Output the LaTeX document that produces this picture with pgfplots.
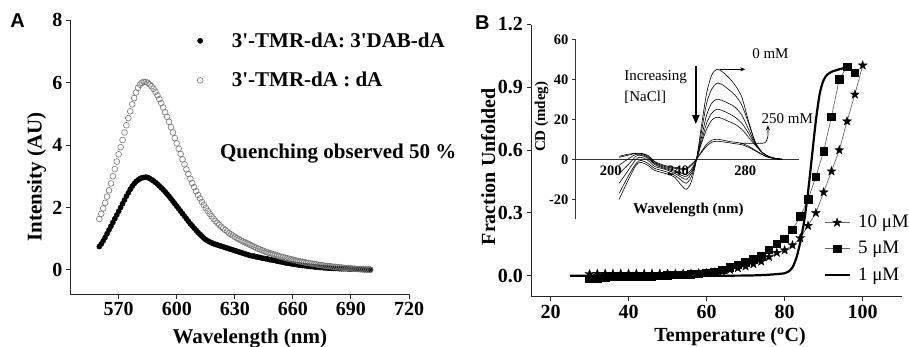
\documentclass[border=0pt]{standalone}
\usepackage{fontspec}
\setmainfont{Liberation Serif}
\newfontfamily\arialfont{Liberation Sans}
\usepackage{pgfplots}
\pgfplotsset{compat=1.18}
\usetikzlibrary{arrows.meta}
\pgfdeclareplotmark{fstar}{%
  \pgfpathmoveto{\pgfpointpolar{90}{\pgfplotmarksize}}%
  \pgfpathlineto{\pgfpointpolar{126}{0.4\pgfplotmarksize}}%
  \pgfpathlineto{\pgfpointpolar{162}{\pgfplotmarksize}}%
  \pgfpathlineto{\pgfpointpolar{198}{0.4\pgfplotmarksize}}%
  \pgfpathlineto{\pgfpointpolar{234}{\pgfplotmarksize}}%
  \pgfpathlineto{\pgfpointpolar{270}{0.4\pgfplotmarksize}}%
  \pgfpathlineto{\pgfpointpolar{306}{\pgfplotmarksize}}%
  \pgfpathlineto{\pgfpointpolar{342}{0.4\pgfplotmarksize}}%
  \pgfpathlineto{\pgfpointpolar{18}{\pgfplotmarksize}}%
  \pgfpathlineto{\pgfpointpolar{54}{0.4\pgfplotmarksize}}%
  \pgfpathclose\pgfusepathqfillstroke}
\begin{document}
\begin{tikzpicture}
\useasboundingbox (0,0) rectangle (909pt,346pt);
\node[font=\arialfont\bfseries\fontsize{20}{20}\selectfont] at (17.5pt,325pt) {A};
\node[font=\arialfont\bfseries\fontsize{20}{20}\selectfont] at (482.3pt,323.7pt) {B};
% ---------------- Panel A ----------------
\begin{axis}[at={(70.3pt,52pt)}, anchor=south west, scale only axis,
  width=338.7pt, height=274pt,
  xmin=545, xmax=720, ymin=-0.77, ymax=8,
  axis lines=left, axis line style={-, line width=0.9pt, black!85},
  xtick={570,600,630,660,690,720}, ytick={0,2,4,6,8},
  tick align=outside, major tick length=4.5pt,
  tick style={line width=0.9pt, black!85},
  tick label style={font=\fontsize{20}{24}\selectfont\bfseries},
  /pgf/number format/assume math mode=true,
  label style={font=\fontsize{21}{24}\selectfont\bfseries},
  xlabel={Wavelength (nm)}, ylabel={Intensity (AU)},
  xlabel style={at={(axis description cs:0.53,-0.1617)}, anchor=center},
  ylabel style={at={(axis description cs:-0.0992,0.428)}, anchor=center},
  clip=false,
  legend style={at={(axis description cs:0.374,0.955)}, anchor=north west,
    draw=none, fill=none, inner sep=0pt, row sep=23pt,
    cells={anchor=west}, nodes={inner sep=0pt, text depth=0.2em},
    font=\fontsize{21}{24}\selectfont\bfseries},
  legend image code/.code={\path[draw=none, fill=none] (0pt,-4pt) rectangle (34.7pt,4pt);
    \draw[#1] plot coordinates {(3pt,0pt)};},
]
\addplot[only marks, mark=*, mark size=2.6pt, black] coordinates {
(560,0.75)(561,0.83)(562,0.93)(563,1.04)(564,1.16)(565,1.28)(566,1.40)(567,1.52)(568,1.64)(569,1.76)
(570,1.88)(571,2.00)(572,2.12)(573,2.24)(574,2.36)(575,2.47)(576,2.58)(577,2.68)(578,2.76)(579,2.83)
(580,2.88)(581,2.92)(582,2.95)(583,2.96)(584,2.97)(585,2.96)(586,2.93)(587,2.89)(588,2.85)(589,2.80)
(590,2.75)(591,2.69)(592,2.63)(593,2.57)(594,2.50)(595,2.43)(596,2.36)(597,2.28)(598,2.20)(599,2.12)
(600,2.04)(601,1.96)(602,1.88)(603,1.80)(604,1.72)(605,1.64)(606,1.56)(607,1.48)(608,1.41)(609,1.34)
(610,1.27)(611,1.20)(612,1.14)(613,1.08)(614,1.02)(615,0.97)(616,0.93)(617,0.90)(618,0.87)(619,0.84)
(620,0.82)(621,0.80)(622,0.78)(623,0.76)(624,0.74)(625,0.72)(626,0.70)(627,0.68)(628,0.66)(629,0.64)
(630,0.62)(631,0.60)(632,0.58)(633,0.56)(634,0.54)(635,0.52)(636,0.50)(637,0.48)(638,0.46)(639,0.45)
(640,0.44)(641,0.42)(642,0.41)(643,0.40)(644,0.38)(645,0.37)(646,0.36)(647,0.35)(648,0.33)(649,0.32)
(650,0.31)(651,0.30)(652,0.28)(653,0.27)(654,0.26)(655,0.25)(656,0.23)(657,0.22)(658,0.21)(659,0.20)
(660,0.19)(661,0.18)(662,0.17)(663,0.16)(664,0.15)(665,0.14)(666,0.14)(667,0.13)(668,0.12)(669,0.11)
(670,0.11)(671,0.10)(672,0.09)(673,0.09)(674,0.08)(675,0.08)(676,0.07)(677,0.07)(678,0.06)(679,0.06)
(680,0.05)(681,0.05)(682,0.05)(683,0.05)(684,0.04)(685,0.04)(686,0.04)(687,0.04)(688,0.04)(689,0.03)
(690,0.03)(691,0.03)(692,0.03)(693,0.03)(694,0.02)(695,0.02)(696,0.02)(697,0.02)(698,0.02)(699,0.02)
(700,0.02)};
\addlegendentry{3\textquotesingle-TMR-dA: 3\textquotesingle DAB-dA}
\addplot[only marks, mark=o, mark size=2.9pt, black!55, mark options={line width=0.6pt}] coordinates {
(560,1.63)(561,1.80)(562,1.97)(563,2.15)(564,2.35)(565,2.55)(566,2.77)(567,3.00)(568,3.23)(569,3.47)
(570,3.70)(571,3.93)(572,4.16)(573,4.40)(574,4.63)(575,4.86)(576,5.08)(577,5.30)(578,5.50)(579,5.68)
(580,5.83)(581,5.93)(582,5.99)(583,6.02)(584,6.02)(585,5.99)(586,5.94)(587,5.88)(588,5.80)(589,5.70)
(590,5.59)(591,5.47)(592,5.34)(593,5.20)(594,5.05)(595,4.90)(596,4.74)(597,4.57)(598,4.40)(599,4.22)
(600,4.05)(601,3.88)(602,3.71)(603,3.54)(604,3.38)(605,3.22)(606,3.07)(607,2.92)(608,2.78)(609,2.65)
(610,2.52)(611,2.40)(612,2.29)(613,2.18)(614,2.08)(615,1.98)(616,1.89)(617,1.80)(618,1.72)(619,1.64)
(620,1.57)(621,1.50)(622,1.44)(623,1.38)(624,1.33)(625,1.28)(626,1.23)(627,1.18)(628,1.14)(629,1.10)
(630,1.06)(631,1.02)(632,0.99)(633,0.95)(634,0.92)(635,0.89)(636,0.86)(637,0.83)(638,0.80)(639,0.77)
(640,0.74)(641,0.71)(642,0.68)(643,0.66)(644,0.63)(645,0.61)(646,0.58)(647,0.56)(648,0.54)(649,0.52)
(650,0.50)(651,0.48)(652,0.46)(653,0.44)(654,0.42)(655,0.41)(656,0.39)(657,0.37)(658,0.36)(659,0.34)
(660,0.33)(661,0.31)(662,0.30)(663,0.28)(664,0.27)(665,0.26)(666,0.25)(667,0.23)(668,0.22)(669,0.21)
(670,0.20)(671,0.19)(672,0.18)(673,0.17)(674,0.16)(675,0.15)(676,0.14)(677,0.13)(678,0.13)(679,0.12)
(680,0.11)(681,0.10)(682,0.10)(683,0.09)(684,0.08)(685,0.08)(686,0.07)(687,0.06)(688,0.06)(689,0.05)
(690,0.05)(691,0.04)(692,0.04)(693,0.03)(694,0.03)(695,0.02)(696,0.02)(697,0.01)(698,0.01)(699,0.00)
(700,0.00)};
\addlegendentry{3\textquotesingle-TMR-dA : dA}
\node[anchor=west, font=\fontsize{21}{24}\selectfont\bfseries] at (axis description cs:0.432,0.511) {Quenching observed 50 \%};
\end{axis}
% ---------------- Panel B ----------------
\begin{axis}[at={(531pt,49.3pt)}, anchor=south west, scale only axis,
  width=370.7pt, height=272.2pt,
  xmin=15, xmax=110, ymin=-0.1, ymax=1.2,
  axis lines=left, axis line style={-, line width=0.9pt, black!85},
  xtick={20,40,60,80,100}, ytick={0,0.3,0.6,0.9,1.2},
  yticklabel style={/pgf/number format/.cd, fixed, zerofill, precision=1},
  tick align=outside, major tick length=4.5pt,
  tick style={line width=0.9pt, black!85},
  tick label style={font=\fontsize{20}{24}\selectfont\bfseries},
  /pgf/number format/assume math mode=true,
  label style={font=\fontsize{20}{24}\selectfont\bfseries},
  xlabel={Temperature (\textsuperscript{o}C)}, ylabel={Fraction Unfolded},
  xlabel style={at={(axis description cs:0.537,-0.147)}, anchor=center},
  ylabel style={at={(axis description cs:-0.1152,0.478)}, anchor=center},
  legend style={at={(axis description cs:0.7885,0.300)}, anchor=north west,
    draw=none, fill=none, inner sep=0pt, row sep=11.6pt,
    cells={anchor=west}, nodes={inner sep=0pt, text depth=0.2em},
    font=\fontsize{19}{22}\selectfont},
  legend image code/.code={\path[draw=none, fill=none] (0pt,-4pt) rectangle (33.4pt,4pt);
    \draw[mark repeat=2, mark phase=2, #1] plot coordinates {(0pt,0pt) (12.5pt,0pt) (25pt,0pt)};},
]
\addplot[gray!80!black, line width=0.7pt, mark=fstar, mark size=4.7pt, mark options={black, fill=black, line width=0.3pt}] coordinates {
(30,0.008)(32,0.010)(34,0.010)(36,0.010)(38,0.010)(40,0.010)(42,0.010)(44,0.010)(46,0.010)(48,0.010)
(50,0.010)(52,0.010)(54,0.010)(56,0.010)(58,0.012)(60,0.013)(62,0.016)(64,0.020)(66,0.029)(68,0.037)
(70,0.045)(72,0.056)(74,0.068)(76,0.090)(78,0.110)(80,0.122)(82,0.146)(84,0.180)(86,0.239)(88,0.300)
(90,0.399)(92,0.499)(94,0.600)(96,0.738)(98,0.866)(100,1.005)};
\addlegendentry{10 μM}
\addplot[gray!80!black, line width=0.7pt, mark=square*, mark size=3.8pt, mark options={black, fill=black}] coordinates {
(30,-0.014)(32,-0.012)(34,-0.008)(36,-0.006)(38,-0.004)(40,-0.004)(42,-0.004)(44,-0.004)(46,-0.004)(48,0.000)
(50,0.002)(52,0.004)(54,0.005)(56,0.007)(58,0.010)(60,0.013)(62,0.018)(64,0.029)(66,0.040)(68,0.053)
(70,0.064)(72,0.077)(74,0.092)(76,0.124)(78,0.153)(80,0.177)(82,0.220)(84,0.283)(86,0.364)(88,0.472)
(90,0.595)(92,0.759)(94,0.938)(96,0.998)(98,0.970)};
\addlegendentry{5 μM}
\addplot[black, line width=2.2pt, smooth] coordinates {
(25,0)(40,0)(60,0)(70,0.001)(74,0.003)(76,0.005)(78,0.008)(80,0.012)(81,0.02)(82,0.04)(83,0.085)
(84,0.16)(85,0.26)(86,0.40)(87,0.57)(88,0.74)(89,0.87)(90,0.935)(91,0.962)(92,0.974)(94,0.986)(96,0.996)};
\addlegendentry{1 μM}
\end{axis}
% ---------------- Inset ----------------
\begin{axis}[at={(575pt,126.7pt)}, anchor=south west, scale only axis,
  width=224pt, height=180pt,
  xmin=178.7, xmax=312, ymin=-30, ymax=60,
  axis x line=middle, axis y line=left,
  axis line style={-, line width=0.7pt, black!80},
  hide obscured x ticks=false, hide obscured y ticks=false,
  xtick={200,240,280}, ytick={-20,0,20,40,60},
  x tick style={draw=none}, y tick style={line width=0.7pt, black!80},
  tick align=outside, major tick length=3pt,
  tick label style={font=\fontsize{14.5}{16}\selectfont\bfseries},
  /pgf/number format/assume math mode=true,
  label style={font=\fontsize{15}{17}\selectfont\bfseries},
  xlabel={Wavelength (nm)}, ylabel={CD (mdeg)},
  xlabel style={at={(axis description cs:0.506,0.052)}, anchor=center},
  ylabel style={at={(axis description cs:-0.149,0.57)}, anchor=center},
  clip=false,
]
\addplot[black, line width=0.6pt, smooth] coordinates {(205,-20)(210,-11)(215,-3)(218,-1.5)(222,-3)(226,-5.5)(230,-6.5)(234,-7.5)(238,-9)(242,-13)(245,-15)(248,-11)(251,0)(254,17)(257,33)(260,42)(263,45)(266,44)(270,41)(274,37)(278,31)(282,19)(286,8.5)(290,3.5)(294,1.5)(298,0.4)(302,0)};
\addplot[black, line width=0.6pt, smooth] coordinates {(205,-17)(210,-9)(215,-2)(218,-0.5)(222,-2)(226,-4.5)(230,-5.5)(234,-6.5)(238,-8)(242,-10.5)(245,-12)(248,-8.5)(251,0)(254,14)(257,28)(260,35)(263,38)(266,37.5)(270,35)(274,32)(278,27)(282,18)(286,8.5)(290,3.5)(294,1.3)(298,0.4)(302,0)};
\addplot[black, line width=0.6pt, smooth] coordinates {(205,-12)(210,-6)(215,0)(218,1)(222,-0.5)(226,-3.5)(230,-4.5)(234,-5.5)(238,-7)(242,-9)(245,-10)(248,-7)(251,0)(254,11)(257,22)(260,28)(263,30)(266,29.5)(270,28)(274,26)(278,22)(282,15)(286,8)(290,3.5)(294,1.3)(298,0.4)(302,0)};
\addplot[black, line width=0.6pt, smooth] coordinates {(205,-7)(210,-3)(215,1.5)(218,2)(222,0.5)(226,-2.5)(230,-4)(234,-5)(238,-6)(242,-8)(245,-8.5)(248,-6)(251,0)(254,9)(257,18)(260,23)(263,25)(266,24.5)(270,23)(274,21)(278,18)(282,13)(286,7.5)(290,3.5)(294,1.3)(298,0.4)(302,0)};
\addplot[black, line width=0.6pt, smooth] coordinates {(205,-3)(210,0)(215,2.5)(218,2.5)(222,1)(226,-2)(230,-3.5)(234,-4.5)(238,-5.5)(242,-7)(245,-7.5)(248,-5)(251,0)(254,8)(257,15)(260,19.5)(263,21)(266,20.5)(270,19)(274,17.5)(278,15)(282,11)(286,7)(290,3.5)(294,1.3)(298,0.4)(302,0)};
\addplot[black, line width=0.6pt, smooth] coordinates {(205,1)(210,2)(215,3)(218,3)(222,1.5)(226,-1.5)(230,-3)(234,-4)(238,-4.5)(242,-5)(245,-5)(248,-3)(251,0)(254,4)(257,7.5)(260,9.5)(263,10)(266,9.7)(270,9)(274,8.5)(278,8)(282,6.5)(286,4.5)(290,2.5)(294,1)(298,0.3)(302,0)};
\addplot[black, line width=0.6pt, smooth] coordinates {(205,1.5)(210,2.5)(215,3)(218,3)(222,2)(226,-1)(230,-2.5)(234,-3.5)(238,-4)(242,-4.5)(245,-4.5)(248,-2.5)(251,0)(254,3.5)(257,6.5)(260,8.5)(263,9)(266,8.8)(270,8.3)(274,7.8)(278,7.3)(282,6)(286,4.2)(290,2.3)(294,0.9)(298,0.3)(302,0)};
\draw[black, line width=0.7pt, -{Stealth[length=5pt,width=4pt]}] (axis cs:265,45) -- (axis cs:280,45);
\draw[black, line width=0.7pt, -{Stealth[length=5pt,width=4pt]}] (axis cs:277,8) -- (axis cs:290,8) to[out=0,in=-90] (axis cs:293.5,17);
\draw[black, line width=1.6pt, -{Triangle[length=9pt,width=7pt]}] (axis cs:250.6,46.6) -- (axis cs:250.6,17.6);
\node[font=\fontsize{15}{17}\selectfont] at (axis cs:295,53) {0 mM};
\node[font=\fontsize{15}{17}\selectfont] at (axis cs:305,20.3) {250 mM};
\node[anchor=west, font=\fontsize{15}{17}\selectfont] at (axis cs:206,41) {Increasing};
\node[anchor=west, font=\fontsize{15}{17}\selectfont] at (axis cs:206,31) {[NaCl]};
\end{axis}
\end{tikzpicture}
\end{document}
